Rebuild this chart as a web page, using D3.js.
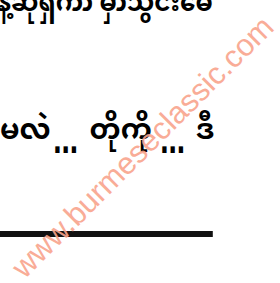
<!DOCTYPE html>
<html>
<head>
<meta charset="utf-8">
<script src="https://cdn.jsdelivr.net/npm/d3@7"></script>
<style>
  html, body { margin: 0; padding: 0; background: #fff; overflow: hidden; }
</style>
</head>
<body>
<div id="page"></div>
<script>
// texte de la page scannée
const topLine = ["နဲ့ဆိုရှက်ာ", "မှာသွင်းမေ"];
const midLine = ["မလဲ", "...", "တိုကို", "...", "ဒီ"];
const watermark = "www.burmeseclassic.com";

const width = 280, height = 283;

const svg = d3.select('#page').append('svg')
    .attr('width', width)
    .attr('height', height);

// échelles de la page (0..1 -> pixels)
const x = d3.scaleLinear().domain([0, 1]).range([0, width]);
const y = d3.scaleLinear().domain([0, 1]).range([0, height]);

const font = '"Noto Sans Myanmar", "Myanmar Text", "Padauk", "Noto Sans", sans-serif';

// première ligne (coupée en haut, comme le scan)
svg.append('text')
    .attr('x', x(-0.01))
    .attr('y', y(0.04))
    .attr('textLength', x(0.77))
    .attr('lengthAdjust', 'spacingAndGlyphs')
    .style('font-family', font)
    .style('font-size', '26px')
    .style('font-weight', 'bold')
    .style('fill', '#000')
    .text(topLine.join(' '));

// deuxième ligne : mots et points de suspension
const midX = [0, 0.19, 0.32, 0.572, 0.70];
const isDots = d => d === '...';
svg.append('g').selectAll('text')
    .data(midLine)
    .join('text')
    .attr('x', (d, i) => x(midX[i]))
    .attr('y', d => isDots(d) ? y(0.54) : y(0.49))
    .attr('textLength', d => isDots(d) ? 25 : null)
    .attr('lengthAdjust', 'spacingAndGlyphs')
    .style('font-family', d => isDots(d) ? 'Liberation Sans, Arial, sans-serif' : font)
    .style('font-size', d => isDots(d) ? '44px' : '28px')
    .style('font-weight', 'bold')
    .style('fill', '#000')
    .text(d => d);

// trait épais
svg.append('line')
    .attr('x1', x(0))
    .attr('x2', x(0.76))
    .attr('y1', y(0.827))
    .attr('y2', y(0.827))
    .attr('stroke', '#111')
    .attr('stroke-width', 6);

// filigrane
svg.append('text')
    .attr('transform', `translate(${x(0.515)},${y(0.525)}) rotate(-45)`)
    .attr('text-anchor', 'middle')
    .attr('dominant-baseline', 'middle')
    .style('font-family', 'Liberation Sans, Arial, sans-serif')
    .style('font-size', '31px')
    .style('fill', '#f9a48c')
    .style('opacity', 0.9)
    .text(watermark);
</script>
</body>
</html>
